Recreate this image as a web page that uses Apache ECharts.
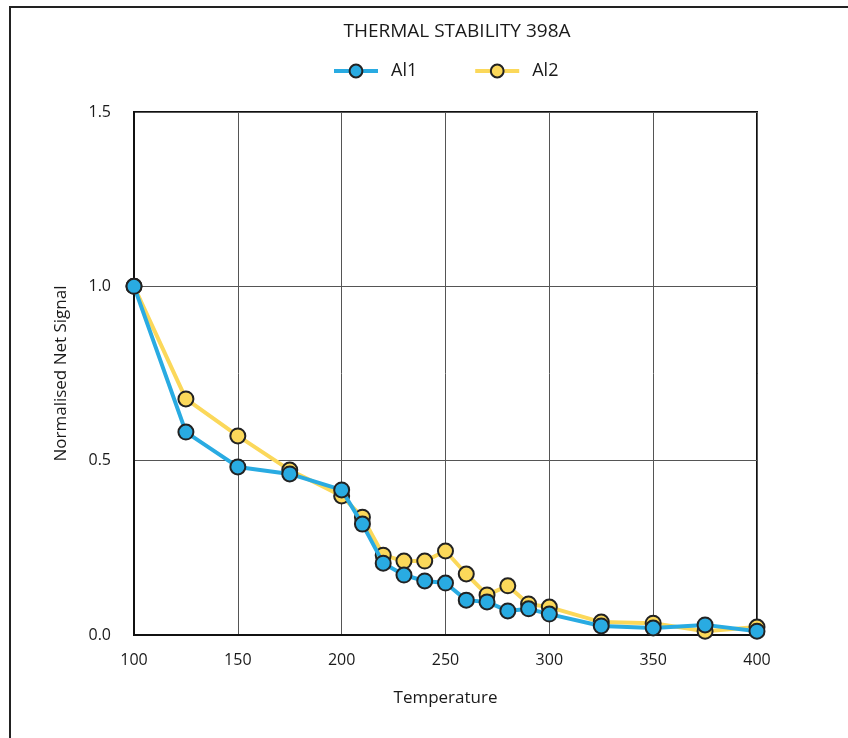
<!DOCTYPE html>
<html>
<head>
<meta charset="utf-8">
<script src="https://cdn.jsdelivr.net/npm/echarts@6/dist/echarts.min.js"></script>
<style>
html, body { margin: 0; padding: 0; background: #fff; }
#main { width: 848px; height: 738px; }
</style>
</head>
<body>
<div id="main"></div>
<script>
const temps = [100, 125, 150, 175, 200, 210, 220, 230, 240, 250, 260, 270, 280, 290, 300, 325, 350, 375, 400];
const al1 = [1.0, 0.582, 0.482, 0.462, 0.416, 0.318, 0.206, 0.172, 0.155, 0.149, 0.100, 0.095, 0.069, 0.075, 0.060, 0.026, 0.020, 0.029, 0.011];
const al2 = [1.0, 0.677, 0.571, 0.473, 0.399, 0.338, 0.229, 0.212, 0.212, 0.241, 0.175, 0.115, 0.141, 0.089, 0.080, 0.037, 0.034, 0.011, 0.023];
const yTicks = [0, 0.5, 1.0, 1.5];

const font = "Open Sans";
const blue = "#29abe2";
const yellow = "#fbd85a";

const myChart = echarts.init(document.getElementById("main"));

function pairs(vals) {
    return temps.map((t, i) => [t, vals[i]]);
}

const option = {
    animation: false,
    textStyle: { fontFamily: font },
    title: {
        text: "THERMAL STABILITY 398A",
        left: 452,
        textAlign: "center",
        top: 17,
        textStyle: { fontFamily: font, fontSize: 19, fontWeight: "normal", color: "#1a1a1a" },
    },
    legend: {
        data: ["Al1", "Al2"],
        top: 57,
        left: 327,
        itemWidth: 44,
        itemHeight: 16,
        itemGap: 56,
        lineStyle: { width: 4 },
        textStyle: { fontFamily: font, fontSize: 18, color: "#1a1a1a", padding: [0, 0, 0, 8] },
    },
    graphic: [{
        type: "rect",
        shape: { x: 10, y: 7, width: 860, height: 760 },
        style: { fill: "none", stroke: "#222", lineWidth: 2 },
        silent: true,
    }],
    grid: {
        left: 134,
        right: 91,
        top: 112,
        bottom: 103,
        show: true,
        borderColor: "#111",
        borderWidth: 2,
    },
    xAxis: {
        type: "value",
        min: 100,
        max: 400,
        interval: 50,
        name: "Temperature",
        nameLocation: "middle",
        nameGap: 55,
        nameTextStyle: { fontFamily: font, fontSize: 17, color: "#1a1a1a" },
        axisLine: { show: true, lineStyle: { color: "#111", width: 2 } },
        axisTick: { show: false },
        axisLabel: { fontFamily: font, fontSize: 16, color: "#1a1a1a", margin: 17 },
        splitLine: { show: true, lineStyle: { color: "#555", width: 1 } },
    },
    yAxis: {
        type: "value",
        min: 0,
        max: 1.5,
        interval: 0.5,
        name: "Normalised Net Signal",
        nameLocation: "middle",
        nameGap: 64,
        nameTextStyle: { fontFamily: font, fontSize: 17, color: "#1a1a1a" },
        axisLine: { show: true, lineStyle: { color: "#111", width: 2 } },
        axisTick: { show: false },
        axisLabel: {
            fontFamily: font, fontSize: 16, color: "#1a1a1a", margin: 23,
            formatter: (v) => yTicks.includes(v) ? v.toFixed(1) : "",
        },
        splitLine: { show: true, lineStyle: { color: "#555", width: 1 } },
    },
    series: [
        {
            name: "Al1",
            type: "line",
            z: 4,
            data: pairs(al1),
            symbol: "circle",
            symbolSize: 15,
            lineStyle: { color: blue, width: 4 },
            itemStyle: { color: blue, borderColor: "#222", borderWidth: 2 },
        },
        {
            name: "Al2",
            type: "line",
            z: 3,
            data: pairs(al2),
            symbol: "circle",
            symbolSize: 15,
            lineStyle: { color: yellow, width: 4 },
            itemStyle: { color: yellow, borderColor: "#222", borderWidth: 2 },
        },
    ],
};
myChart.setOption(option);
</script>
</body>
</html>
